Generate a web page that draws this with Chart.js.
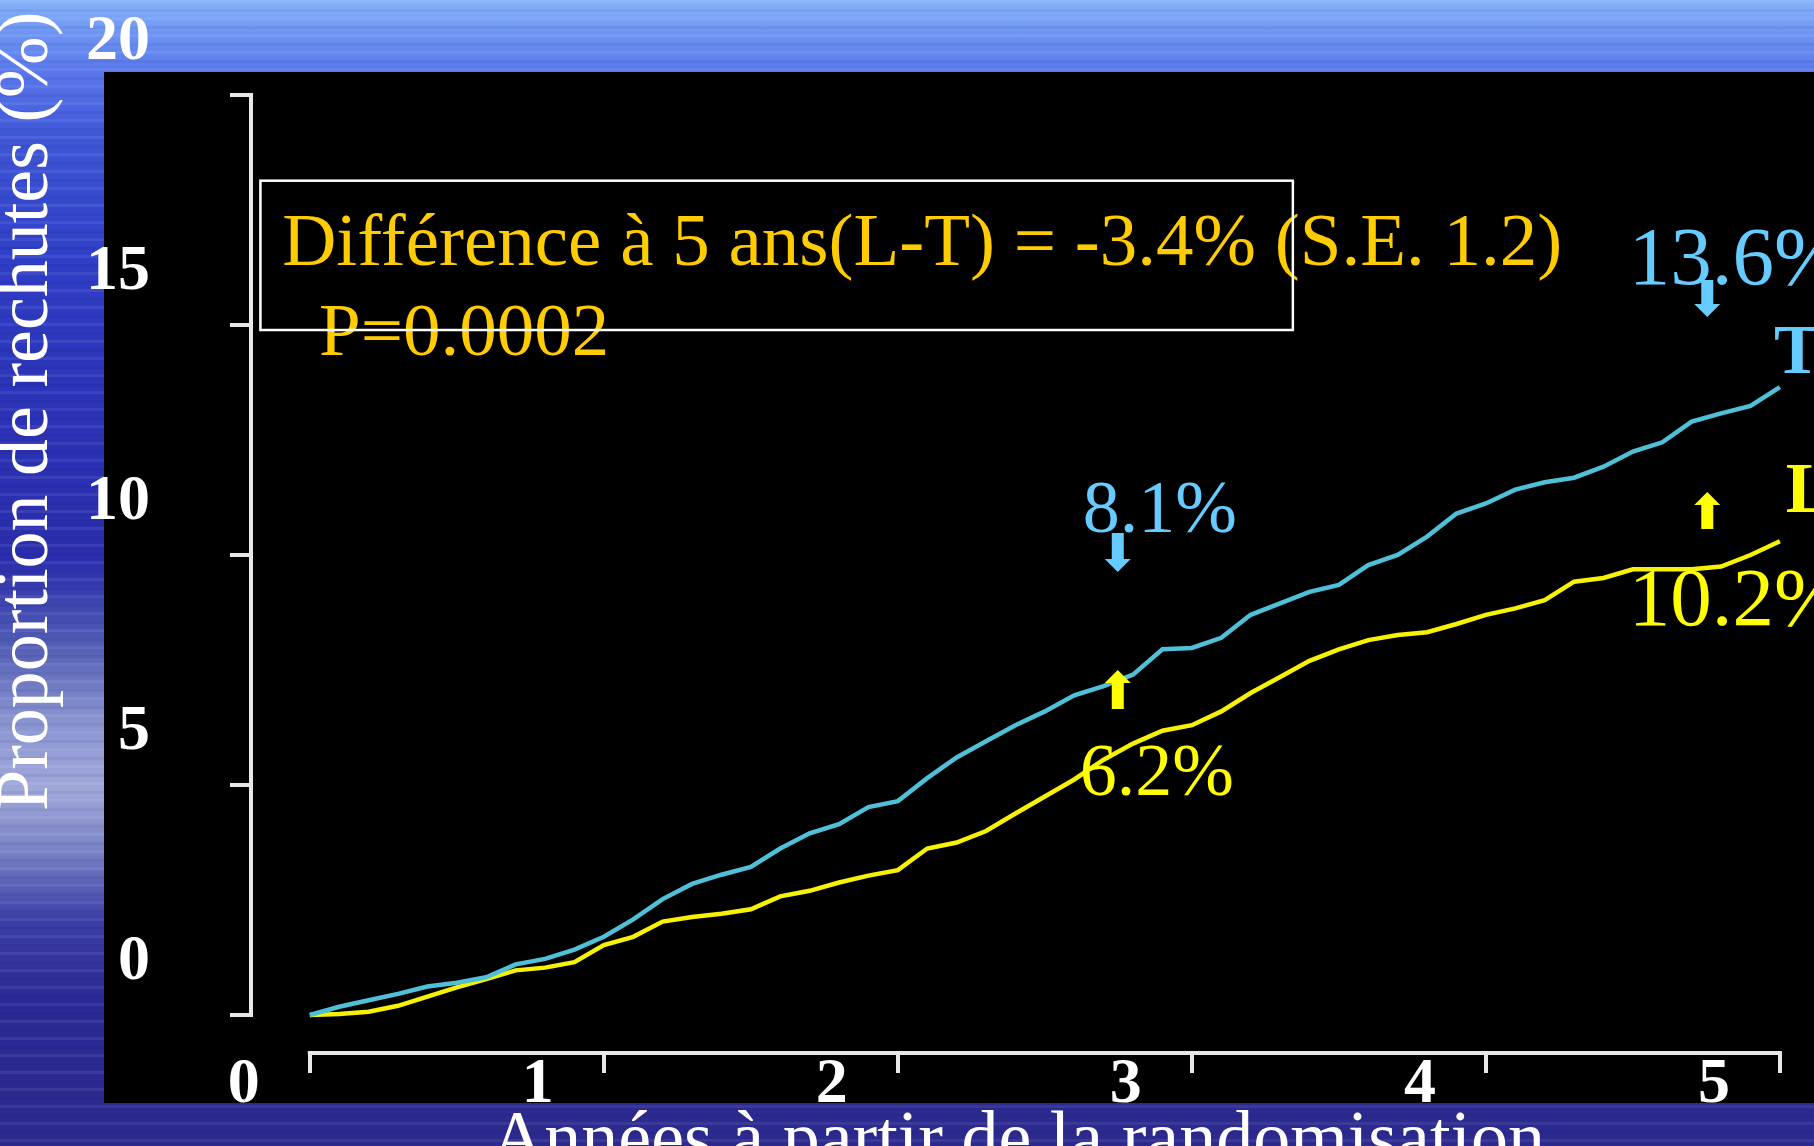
<!DOCTYPE html>
<html>
<head>
<meta charset="utf-8">
<script src="https://cdn.jsdelivr.net/npm/chart.js@4.4.1/dist/chart.umd.min.js"></script>
<style>
  html, body { margin: 0; padding: 0; overflow: hidden; }
  body {
    width: 1814px; height: 1146px; position: relative;
    background:
      repeating-linear-gradient(180deg, rgba(255,255,255,0.07) 0 3px, rgba(0,0,0,0) 3px 9px, rgba(0,0,60,0.06) 9px 12px, rgba(0,0,0,0) 12px 17px),
      linear-gradient(180deg, #86b4fb 0px, #6d93f3 35px, #5a79ec 70px, #3e56d6 140px, #2f3ec6 260px, #2b32b6 420px, #2a2eac 560px, #4f5ab4 640px, #8a94d0 720px, #a0a8da 790px, #7a84c6 850px, #3c3ea6 920px, #2a2996 1000px, #2d2a8e 1146px);
  }
  #plate { position: absolute; left: 104px; top: 72px; width: 1710px; height: 1031px; background: #000; }
  #c { position: absolute; left: 0; top: 0; }
</style>
</head>
<body>
<div id="plate"></div>
<canvas id="c" width="1814" height="1146"></canvas>
<script>
// années depuis la randomisation
const years = [0, 0.1, 0.2, 0.3, 0.4, 0.5, 0.6, 0.7, 0.8, 0.9,
  1.0, 1.1, 1.2, 1.3, 1.4, 1.5, 1.6, 1.7, 1.8, 1.9,
  2.0, 2.1, 2.2, 2.3, 2.4, 2.5, 2.6, 2.7, 2.8, 2.9,
  3.0, 3.1, 3.2, 3.3, 3.4, 3.5, 3.6, 3.7, 3.8, 3.9,
  4.0, 4.1, 4.2, 4.3, 4.4, 4.5, 4.6, 4.7, 4.8, 4.9, 5.0];

// rechutes cumulées (%), bras T
const serieT = [0, 0.18, 0.32, 0.46, 0.62, 0.7, 0.82, 1.1, 1.22, 1.42,
  1.7, 2.08, 2.52, 2.85, 3.05, 3.22, 3.62, 3.95, 4.15, 4.52,
  4.65, 5.15, 5.6, 5.95, 6.3, 6.6, 6.95, 7.15, 7.4, 7.95,
  7.98, 8.2, 8.7, 8.95, 9.2, 9.35, 9.78, 10.0, 10.4, 10.9,
  11.12, 11.42, 11.58, 11.68, 11.92, 12.25, 12.45, 12.9, 13.08, 13.24, 13.65];

// rechutes cumulées (%), bras L
const serieL = [0, 0.02, 0.07, 0.2, 0.4, 0.6, 0.78, 0.97, 1.03, 1.15,
  1.52, 1.7, 2.03, 2.13, 2.2, 2.3, 2.58, 2.7, 2.88, 3.03,
  3.15, 3.62, 3.75, 4.0, 4.38, 4.75, 5.12, 5.55, 5.9, 6.18,
  6.3, 6.6, 7.0, 7.35, 7.7, 7.95, 8.15, 8.26, 8.32, 8.5,
  8.7, 8.84, 9.02, 9.42, 9.5, 9.69, 9.69, 9.69, 9.75, 10.0, 10.3];

const xTicks = [0, 1, 2, 3, 4, 5];
const yTicks = [0, 5, 10, 15, 20];

const cyan = "#66ccff";
const jaune = "#ffff00";
const serif = '"Liberation Serif", "Times New Roman", serif';

const notes = [
    { text: "Différence à 5 ans(L-T) = -3.4% (S.E. 1.2)", x: -0.094, y: 16.315, color: "#ffcc00", size: 75 },
    { text: "P=0.0002", x: 0.031, y: 14.348, color: "#ffcc00", size: 75 },
    { text: "8.1%", x: 2.629, y: 10.5, color: cyan, size: 74 },
    { text: "6.2%", x: 2.619, y: 4.783, color: jaune, size: 74 },
    { text: "13.6%", x: 4.486, y: 15.891, color: cyan, size: 83 },
    { text: "10.2%", x: 4.486, y: 8.478, color: jaune, size: 83 },
    { text: "T", x: 4.98, y: 13.957, color: cyan, size: 70, bold: true },
    { text: "L", x: 5.02, y: 10.935, color: jaune, size: 72, bold: true }
];

// flèches : de "from" vers la pointe "to"
const fleches = [
    { x: 2.748, from: 10.478, to: 9.63, color: cyan },
    { x: 2.748, from: 6.652, to: 7.5, color: jaune },
    { x: 4.753, from: 15.978, to: 15.174, color: cyan },
    { x: 4.753, from: 10.565, to: 11.37, color: jaune }
];

const cadre = { x0: -0.168, x1: 3.3435, y0: 18.137, y1: 14.891 };

function dessinerFleche(ctx, cx, y0, y1, color) {
    const dir = y1 > y0 ? 1 : -1;
    const tete = 13;
    ctx.fillStyle = color;
    ctx.fillRect(cx - 6, Math.min(y0, y1 - dir * tete), 12, Math.abs(y1 - dir * tete - y0));
    ctx.beginPath();
    ctx.moveTo(cx - 13, y1 - dir * tete);
    ctx.lineTo(cx + 13, y1 - dir * tete);
    ctx.lineTo(cx, y1);
    ctx.closePath();
    ctx.fill();
}

const habillage = {
    id: "habillage",
    afterDatasetsDraw(chart) {
        const ctx = chart.ctx;
        const sx = chart.scales.x, sy = chart.scales.y;
        ctx.save();

        // axes détachés
        ctx.strokeStyle = "#e8e8e8";
        ctx.lineWidth = 4;
        ctx.beginPath();
        ctx.moveTo(chart.chartArea.left, sy.getPixelForValue(yTicks[yTicks.length - 1]) - 2);
        ctx.lineTo(chart.chartArea.left, sy.getPixelForValue(yTicks[0]) + 2);
        ctx.moveTo(sx.getPixelForValue(xTicks[0]) - 2, chart.chartArea.bottom);
        ctx.lineTo(sx.getPixelForValue(xTicks[xTicks.length - 1]) + 2, chart.chartArea.bottom);
        ctx.stroke();

        ctx.textBaseline = "alphabetic";
        ctx.textAlign = "left";
        notes.forEach(n => {
            ctx.font = `${n.bold ? "bold " : ""}${n.size}px ${serif}`;
            ctx.fillStyle = n.color;
            ctx.fillText(n.text, sx.getPixelForValue(n.x), sy.getPixelForValue(n.y));
        });

        ctx.strokeStyle = "#ffffff";
        ctx.lineWidth = 2.5;
        const bx = sx.getPixelForValue(cadre.x0), by = sy.getPixelForValue(cadre.y0);
        ctx.strokeRect(bx, by, sx.getPixelForValue(cadre.x1) - bx, sy.getPixelForValue(cadre.y1) - by);

        fleches.forEach(f => {
            dessinerFleche(ctx, sx.getPixelForValue(f.x), sy.getPixelForValue(f.from), sy.getPixelForValue(f.to), f.color);
        });

        // titres des axes
        ctx.fillStyle = "#ffffff";
        ctx.font = `74px ${serif}`;
        ctx.textAlign = "center";
        ctx.fillText("Années à partir de la randomisation", 1018, 1162);
        ctx.translate(47, 811);
        ctx.rotate(-Math.PI / 2);
        ctx.textAlign = "left";
        ctx.fillText("Proportion de rechutes (%)", 0, 0);
        ctx.restore();
    }
};

new Chart(document.getElementById("c").getContext("2d"), {
    type: "line",
    data: {
        datasets: [
            {
                label: "T",
                data: years.map((x, i) => ({ x: x, y: serieT[i] })),
                borderColor: "#4fc0d8",
                borderWidth: 4.5,
                pointRadius: 0,
                tension: 0,
                fill: false
            },
            {
                label: "L",
                data: years.map((x, i) => ({ x: x, y: serieL[i] })),
                borderColor: "#f6f200",
                borderWidth: 4.5,
                pointRadius: 0,
                tension: 0,
                fill: false
            }
        ]
    },
    options: {
        responsive: false,
        animation: false,
        devicePixelRatio: 1,
        layout: { padding: { top: 95, left: 0, right: 0, bottom: 0 } },
        plugins: { legend: { display: false }, tooltip: { enabled: false } },
        scales: {
            x: {
                type: "linear",
                min: -0.2,
                max: 5.116,
                afterBuildTicks: s => { s.ticks = xTicks.map(v => ({ value: v })); },
                afterFit: s => { s.height = 93; s.paddingLeft = 0; s.paddingRight = 0; },
                border: { display: false },
                grid: { display: true, drawOnChartArea: false, drawTicks: true, tickLength: 20, color: "#e8e8e8", lineWidth: 4 },
                ticks: {
                    color: "#ffffff",
                    font: { family: serif, size: 64, weight: "bold", lineHeight: 1 },
                    padding: -20,
                    labelOffset: -66,
                    maxRotation: 0,
                    autoSkip: false
                }
            },
            y: {
                type: "linear",
                min: -0.826,
                max: 20,
                afterBuildTicks: s => { s.ticks = yTicks.map(v => ({ value: v })); },
                afterFit: s => { s.width = 251; s.paddingTop = 0; s.paddingBottom = 0; },
                border: { display: false },
                grid: { display: true, drawOnChartArea: false, drawTicks: true, tickLength: 21, color: "#e8e8e8", lineWidth: 4 },
                ticks: {
                    color: "#ffffff",
                    font: { family: serif, size: 64, weight: "bold", lineHeight: 1 },
                    padding: 80,
                    labelOffset: -53
                }
            }
        }
    },
    plugins: [habillage]
});
</script>
</body>
</html>
